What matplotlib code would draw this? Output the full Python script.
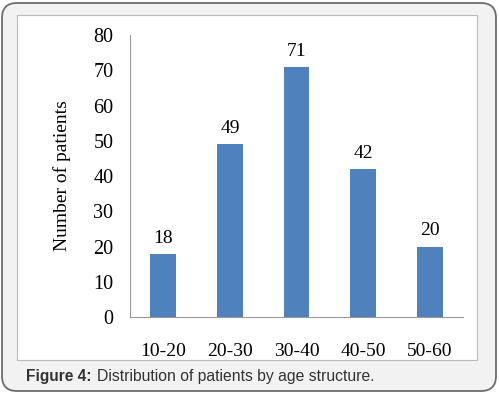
import matplotlib.pyplot as plt
from matplotlib.patches import FancyBboxPatch, Rectangle

# データ
age_groups = ['10-20', '20-30', '30-40', '40-50', '50-60']
patients = [18, 49, 71, 42, 20]
y_ticks = [0, 10, 20, 30, 40, 50, 60, 70, 80]

W, H = 499, 393
fig = plt.figure(figsize=(W / 100, H / 100), dpi=100)

# 外枠（角丸・薄いグレー）
frame = FancyBboxPatch((2 / W, 2 / H), (W - 5) / W, (H - 5) / H,
                       boxstyle='round,pad=0,rounding_size=0.03',
                       transform=fig.transFigure, facecolor='#f2f2f2',
                       edgecolor='#6d6d6d', linewidth=1.3, mutation_aspect=W / H,
                       zorder=-2)
fig.patches.append(frame)

# 白いパネル
panel = Rectangle((17 / W, 1 - 360 / H), (477 - 17) / W, (360 - 15) / H,
                  transform=fig.transFigure, facecolor='white',
                  edgecolor='#bbbbbb', linewidth=0.8, zorder=-1)
fig.patches.append(panel)

# グラフ本体
ax = fig.add_axes([130 / W, 1 - 317 / H, (463 - 130) / W, (317 - 35) / H])
ax.set_facecolor('none')
x = range(len(age_groups))
ax.bar(x, patients, width=0.39, color='#4f81bd')

serif = 'Liberation Serif'
for i, v in enumerate(patients):
    ax.text(i, v + 2, str(v), ha='center', va='bottom',
            fontsize=14, family=serif)

ax.set_xlim(-0.5, len(age_groups) - 0.5)
ax.set_ylim(0, 80)
ax.set_yticks(y_ticks)
ax.set_yticklabels([str(t) for t in y_ticks], fontsize=14.5, family=serif)
ax.set_xticks(list(x))
ax.set_xticklabels(age_groups, fontsize=14, family=serif)
ax.tick_params(axis='both', length=0)
ax.tick_params(axis='y', pad=12)
ax.tick_params(axis='x', pad=19)

for s in ['top', 'right']:
    ax.spines[s].set_visible(False)
ax.spines['left'].set_color('#999999')
ax.spines['bottom'].set_color('#999999')
ax.spines['left'].set_linewidth(0.8)
ax.spines['bottom'].set_linewidth(0.8)

ax.set_ylabel('Number of patients', fontsize=14, family=serif, labelpad=16)

# キャプション
fig.text(26 / W, 1 - 376 / H, 'Figure 4:', fontsize=11.2, fontweight='bold',
         family='Liberation Sans', color='#333333', va='center')
fig.text(97 / W, 1 - 376 / H, 'Distribution of patients by age structure.',
         fontsize=11.3, family='Liberation Sans', color='#333333', va='center')

fig.savefig('out.png', dpi=100)
